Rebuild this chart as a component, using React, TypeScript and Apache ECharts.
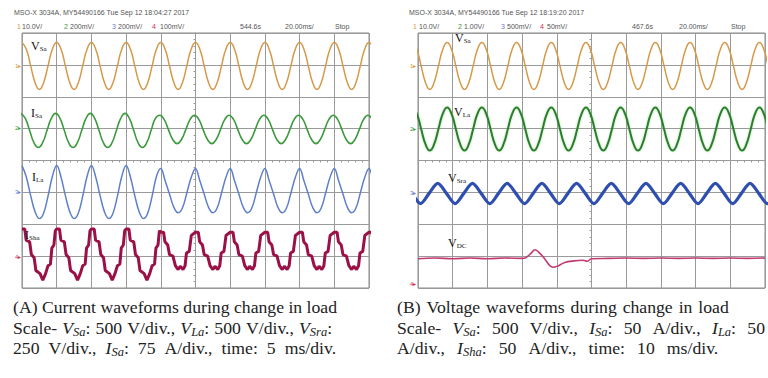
import React, { useEffect, useRef } from "react";
import * as echarts from "echarts";

type Pt = [number, number];

// ---------------- DATA (x, y in scope divisions measured from screen centre) ----------------
// Panel A : current waveforms
const aStarts = [-5, -4, -3, -2, -1, 0, 1, 2, 3, 4, 5];
const aStartsBefore = [-5, -4, -3, -2];
const aStartsAfter = [-1, 0, 1, 2, 3, 4, 5];
const aVsaCycle: Pt[] = [
  [0, 3.7], [0.125, 3.49], [0.25, 2.97], [0.375, 2.45], [0.5, 2.23], [0.625, 2.45], [0.75, 2.97], [0.875, 3.49],
];
const aIsaCycleBefore: Pt[] = [
  [-0.03, 1.48], [0.095, 1.32], [0.22, 0.94], [0.345, 0.56], [0.47, 0.41], [0.595, 0.56], [0.72, 0.94], [0.845, 1.32],
];
const aIsaCycleAfter: Pt[] = [
  [-0.03, 1.42], [0.095, 1.29], [0.22, 0.97], [0.345, 0.66], [0.47, 0.53], [0.595, 0.66], [0.72, 0.97], [0.845, 1.29],
];
const aIlaCycleBefore: Pt[] = [
  [0, -0.16], [0.12, -0.5], [0.25, -1.1], [0.38, -1.62], [0.5, -1.82], [0.62, -1.66], [0.75, -1.12], [0.88, -0.48],
];
const aIlaCycleAfter: Pt[] = [
  [0, -0.25], [0.12, -0.62], [0.25, -1.05], [0.38, -1.48], [0.5, -1.64], [0.62, -1.5], [0.75, -1.02], [0.88, -0.52],
];
const aIshaCycleBefore: Pt[] = [
  [0, -2.15], [0.08, -2.15], [0.12, -2.5], [0.22, -2.55], [0.27, -2.95], [0.35, -3.05], [0.4, -3.45],
  [0.52, -3.55], [0.6, -3.75], [0.68, -3.55], [0.75, -3.3], [0.82, -3.25], [0.86, -2.75], [0.92, -2.65], [0.96, -2.2],
];
const aIshaCycleAfter: Pt[] = [
  [0, -2.25], [0.08, -2.25], [0.12, -2.55], [0.2, -2.65], [0.25, -2.95], [0.35, -3.0], [0.42, -3.3],
  [0.5, -3.42], [0.56, -3.32], [0.64, -3.42], [0.7, -3.3], [0.74, -2.9], [0.82, -2.85], [0.88, -2.35],
];

// Panel B : voltage waveforms
const bStarts = [-5.16, -4.16, -3.16, -2.16, -1.16, -0.16, 0.84, 1.84, 2.84, 3.84, 4.84];
const bSraStarts = [-5.43, -4.43, -3.43, -2.43, -1.43, -0.43, 0.57, 1.57, 2.57, 3.57, 4.57];
const bVsaCycle: Pt[] = [
  [0, 3.7], [0.125, 3.49], [0.25, 2.97], [0.375, 2.45], [0.5, 2.23], [0.625, 2.45], [0.75, 2.97], [0.875, 3.49],
];
const bVlaCycle: Pt[] = [
  [0, 1.66], [0.125, 1.47], [0.25, 0.99], [0.375, 0.51], [0.5, 0.31], [0.625, 0.51], [0.75, 0.99], [0.875, 1.47],
];
const bVsraCycle: Pt[] = [[0, -0.72], [0.25, -1.03], [0.5, -1.35], [0.75, -1.03]];
const bVdc: Pt[] = [
  [-5, -3.08], [-4.5, -3.06], [-4, -3.08], [-3.5, -3.06], [-3, -3.08], [-2.5, -3.06], [-2, -3.07],
  [-1.9, -3.05], [-1.75, -2.92], [-1.63, -2.8], [-1.48, -2.92], [-1.34, -3.1], [-1.2, -3.3], [-1.11, -3.35],
  [-0.95, -3.3], [-0.77, -3.2], [-0.5, -3.15], [-0.25, -3.13], [-0.12, -3.16], [0, -3.08], [0.5, -3.07],
  [1, -3.06], [1.5, -3.07], [2, -3.06], [2.5, -3.07], [3, -3.06], [3.5, -3.07], [4, -3.06], [4.5, -3.07], [5, -3.06],
];

// ---------------- TEXTS ----------------
const headA = ["MSO-X 3034A, MY54490166 Tue Sep 12 18:04:27 2017", "10.0V/", "200mV/", "200mV/", "100mV/", "544.6s", "20.00ms/", "Stop"];
const headB = ["MSO-X 3034A, MY54490166 Tue Sep 12 18:19:20 2017", "10.0V/", "1.00V/", "500mV/", "50mV/", "467.6s", "20.00ms/", "Stop"];
const chColors = ["#d49a3a", "#3a9a3a", "#6a7ad0", "#d03050"];

// caption lines, as words (rich tokens)
const capA = [
  ["{n|(A)}", "{n|Current}", "{n|waveforms}", "{n|during}", "{n|change}", "{n|in}", "{n|load}"],
  ["{n|Scale-}", "{i|V}{s|Sa}{n|:}", "{n|500}", "{n|V/div.,}", "{i|V}{s|La}{n|:}", "{n|500}", "{n|V/div.,}", "{i|V}{s|Sra}{n|:}"],
  ["{n|250}", "{n|V/div.,}", "{i|I}{s|Sa}{n|:}", "{n|75}", "{n|A/div.,}", "{n|time:}", "{n|5}", "{n|ms/div.}"],
];
const capB = [
  ["{n|(B)}", "{n|Voltage}", "{n|waveforms}", "{n|during}", "{n|change}", "{n|in}", "{n|load}"],
  ["{n|Scale-}", "{i|V}{s|Sa}{n|:}", "{n|500}", "{n|V/div.,}", "{i|I}{s|Sa}{n|:}", "{n|50}", "{n|A/div.,}", "{i|I}{s|La}{n|:}", "{n|50}"],
  ["{n|A/div.,}", "{i|I}{s|Sha}{n|:}", "{n|50}", "{n|A/div.,}", "{n|time:}", "{n|10}", "{n|ms/div.}"],
];
const capGapsA = ["g0", "g1", "g3"];
const capGapsB = ["g2", "g4", "g5"];

function repeatShape(starts: number[], shape: Pt[]): Pt[] {
  const out: Pt[] = [];
  for (const s of starts) for (const [p, v] of shape) out.push([+(s + p).toFixed(3), v]);
  return out;
}

const SERIF = '"Liberation Serif", "Times New Roman", serif';
const SANS = '"Liberation Sans", Arial, sans-serif';
const GRIDC = "#9a9a9a";

function axes(idx: number) {
  const common = {
    type: "value" as const,
    gridIndex: idx,
    interval: 1,
    axisLabel: { show: false },
    axisLine: { show: true, onZero: true, lineStyle: { color: GRIDC, width: 1 } },
    axisTick: { show: true, length: 3, lineStyle: { color: GRIDC } },
    minorTick: { show: true, splitNumber: 5, length: 2, lineStyle: { color: GRIDC } },
    splitLine: { show: true, lineStyle: { color: GRIDC, width: 1 } },
  };
  return {
    x: { ...common, min: -5, max: 5 },
    y: { ...common, min: -4, max: 4 },
  };
}

function txt(text: string, left: number, top: number, style: any) {
  return { text, left, top, padding: 0, textStyle: { fontWeight: "normal", ...style } };
}

export default function App() {
  const ref = useRef<HTMLDivElement>(null);
  useEffect(() => {
    if (!ref.current) return;
    const chart = echarts.init(ref.current, undefined, { renderer: "svg" });
    const ax0 = axes(0);
    const ax1 = axes(1);

    const hs = { fontFamily: SANS, fontSize: 7, color: "#555", fontWeight: "normal" };
    const titles: any[] = [];
    const headX = [
      [14, 22, 70, 118, 160, 240, 285, 335],
      [409, 419, 464, 507, 547, 632, 679, 731],
    ];
    const chX = [
      [17, 64, 112, 152],
      [413, 458, 501, 540],
    ];
    [headA, headB].forEach((h, p) => {
      titles.push(txt(h[0], headX[p][0], 9, hs));
      for (let i = 1; i < h.length; i++) titles.push(txt(h[i], headX[p][i], 23, hs));
      chColors.forEach((c, i) => titles.push(txt(String(i + 1), chX[p][i], 23, { ...hs, color: c })));
    });

    // channel ground markers
    const markY = [
      [63, 125, 189, 254],
      [63, 126, 190, 281],
    ];
    const markX = [15, 410];
    markY.forEach((ys, p) =>
      ys.forEach((y, i) =>
        titles.push(txt(String(i + 1) + "\u25B8", markX[p], y, { fontFamily: SANS, fontSize: 6, color: chColors[i] }))
      )
    );

    const lrich = {
      b: { fontFamily: SERIF, fontSize: 12, color: "#111", lineHeight: 13, fontWeight: "normal" },
      u: { fontFamily: SERIF, fontSize: 7, color: "#111", lineHeight: 7, verticalAlign: "bottom", fontWeight: "normal" },
    };
    const lbl = (t: string, x: number, y: number) => txt(t, x, y, { rich: lrich });
    titles.push(lbl("{b|V}{u|Sa}", 31, 39));
    titles.push(lbl("{b|I}{u|Sa}", 31, 106));
    titles.push(lbl("{b|I}{u|La}", 32, 170));
    titles.push(lbl("{b|I}{u|Sha}", 25, 228));
    titles.push(lbl("{b|V}{u|Sa}", 455, 31));
    titles.push(lbl("{b|V}{u|La}", 454, 105));
    titles.push(lbl("{b|V}{u|Sra}", 448, 171));
    titles.push(lbl("{b|V}{u|DC}", 448, 236));

    const FS = 17.7;
    const base = { fontFamily: SERIF, fontSize: FS, color: "#222", lineHeight: 20, fontWeight: "normal" };
    const gap = (w: number) => ({ ...base, width: w });
    const crich = {
      n: base,
      i: { ...base, fontStyle: "italic" },
      s: { ...base, fontSize: 12.5, fontStyle: "italic", lineHeight: 12, verticalAlign: "bottom" },
      g0: gap(4.4),
      g1: gap(5.1),
      g2: gap(5.9),
      g3: gap(9.0),
      g4: gap(11.3),
      g5: gap(12.1),
    };
    const capTops = [297, 318, 338];
    const join = (words: string[], g: string) => words.join(`{${g}| }`);
    capA.forEach((c, i) => titles.push(txt(join(c, capGapsA[i]), 13, capTops[i], { rich: crich })));
    capB.forEach((c, i) => titles.push(txt(join(c, capGapsB[i]), 397, capTops[i], { rich: crich })));

    const line = (data: Pt[], color: string, width: number, grid: number, smooth: any = true, extra: any = {}) => ({
      type: "line",
      data,
      xAxisIndex: grid,
      yAxisIndex: grid,
      showSymbol: false,
      smooth,
      clip: true,
      lineStyle: { color, width, ...extra },
      z: 3,
    });

    chart.setOption({
      animation: false,
      backgroundColor: "#fff",
      title: titles,
      grid: [
        { left: 22, top: 33, width: 347, height: 255, show: true, borderColor: "#8a8a8a", borderWidth: 1 },
        { left: 418, top: 33, width: 347, height: 255, show: true, borderColor: "#8a8a8a", borderWidth: 1 },
      ],
      xAxis: [ax0.x, ax1.x],
      yAxis: [ax0.y, ax1.y],
      series: [
        line(repeatShape(aStarts, aVsaCycle), "#d49a4a", 1.5, 0),
        line(
          [...repeatShape(aStartsBefore, aIsaCycleBefore), ...repeatShape(aStartsAfter, aIsaCycleAfter)],
          "#3e9a3e", 1.6, 0
        ),
        line(
          [...repeatShape(aStartsBefore, aIlaCycleBefore), ...repeatShape(aStartsAfter, aIlaCycleAfter)],
          "#5f80c8", 1.5, 0, 0.4
        ),
        line(
          [...repeatShape(aStartsBefore, aIshaCycleBefore), ...repeatShape(aStartsAfter, aIshaCycleAfter)],
          "#9c1048", 3, 0, false
        ),
        line(repeatShape(bStarts, bVsaCycle), "#d49a4a", 1.5, 1),
        line(repeatShape(bStarts, bVlaCycle), "#2e7d2e", 2, 1, true, { shadowColor: "rgba(90,200,90,0.5)", shadowBlur: 2 }),
        line(repeatShape(bSraStarts, bVsraCycle), "#2f4fb0", 3.2, 1, 0.3),
        line(bVdc, "#c23a72", 1.6, 1, 0.4),
      ],
    });
    return () => chart.dispose();
  }, []);
  return <div ref={ref} style={{ position: "fixed", left: 0, top: 0, width: 768, height: 378 }} />;
}
